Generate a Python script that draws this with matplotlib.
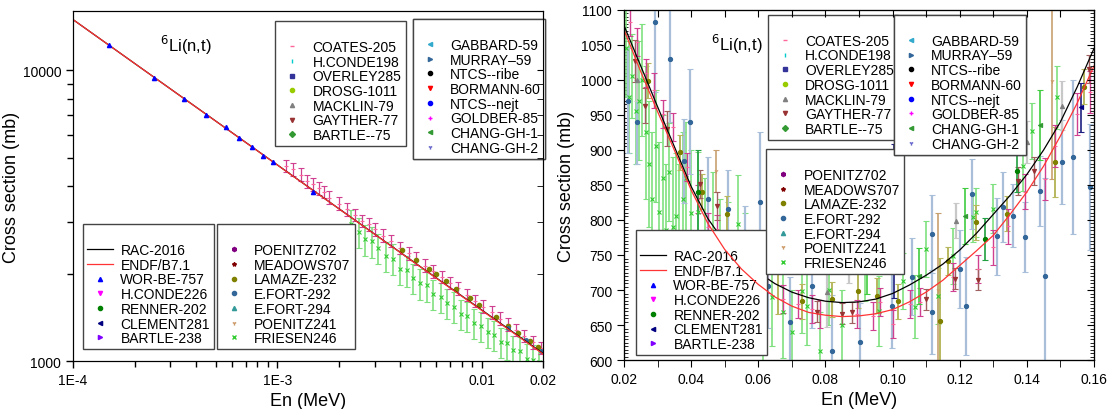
import numpy as np
import matplotlib.pyplot as plt
from matplotlib.lines import Line2D
from matplotlib.ticker import FixedLocator, FixedFormatter, MultipleLocator, NullFormatter

plt.rcParams['font.family'] = ['Liberation Sans', 'DejaVu Sans']

# ---------------- left panel data (log-log, 1E-4 .. 0.02 MeV) ----------------
e_line_l = [1e-4, 2e-4, 5e-4, 1e-3, 2e-3, 5e-3, 0.01, 0.02]
rac_l = [14950, 10570, 6690, 4730, 3345, 2115, 1500, 1062]
endf_l = [14950, 10570, 6685, 4727, 3342, 2112, 1495, 1057]

worbe_e = [1.5e-4, 2.5e-4, 3.5e-4, 4.5e-4, 5.6e-4, 6.5e-4, 7.5e-4, 8.5e-4, 9.5e-4, 1.5e-3]
worbe_s = [12200, 9380, 7940, 7000, 6360, 5830, 5430, 5090, 4820, 3830]

coates_e_l = [1.1e-3, 1.2e-3, 1.3e-3, 1.4e-3, 1.5e-3, 1.6e-3, 1.7e-3, 1.8e-3, 2.0e-3, 2.2e-3,
              2.4e-3, 2.6e-3, 2.8e-3, 3.0e-3, 3.3e-3, 3.6e-3, 4.0e-3, 4.4e-3, 4.8e-3, 5.3e-3,
              5.8e-3, 6.4e-3, 7.0e-3, 7.7e-3, 8.5e-3, 9.3e-3, 0.0102, 0.0112, 0.0123, 0.0135,
              0.0148, 0.0162, 0.0178, 0.0195]
coates_s_l = [4700, 4560, 4380, 4150, 4050, 3930, 3820, 3650, 3480, 3330,
              3180, 3040, 2950, 2840, 2700, 2590, 2450, 2350, 2250, 2130,
              2040, 1950, 1860, 1780, 1690, 1610, 1540, 1470, 1400, 1340,
              1280, 1220, 1160, 1110]
coates_rel_err = 0.05

friesen_e_l = [2.3e-3, 2.5e-3, 2.7e-3, 2.9e-3, 3.1e-3, 3.4e-3, 3.7e-3, 4.0e-3, 4.3e-3, 4.6e-3,
               5.0e-3, 5.4e-3, 5.8e-3, 6.3e-3, 6.8e-3, 7.3e-3, 7.9e-3, 8.5e-3, 9.2e-3, 0.0099,
               0.0107, 0.0115, 0.0124, 0.0133, 0.0143, 0.0154, 0.0166, 0.0178, 0.0191]
friesen_s_l = [2960, 2780, 2620, 2580, 2450, 2300, 2250, 2080, 2050, 1930,
               1850, 1820, 1700, 1660, 1580, 1540, 1450, 1430, 1350, 1320,
               1260, 1230, 1160, 1150, 1090, 1080, 1020, 1010, 990]
friesen_rel_err = 0.12

lamaze_e_l = [4.1e-3, 4.8e-3, 5.5e-3, 6.0e-3, 6.7e-3, 7.5e-3, 8.8e-3, 0.0097, 0.0118, 0.0135,
              0.0150, 0.0172, 0.0190]
lamaze_s_l = [2410, 2220, 2070, 1990, 1880, 1770, 1650, 1560, 1420, 1320,
              1250, 1170, 1120]

efort_e_l = [0.0135, 0.0165, 0.0195]
efort_s_l = [1300, 1180, 1080]

# ---------------- right panel data (linear, 0.02 .. 0.16 MeV) ----------------
e_line_r = [0.020, 0.025, 0.030, 0.035, 0.040, 0.045, 0.050, 0.055, 0.060, 0.065,
            0.070, 0.075, 0.080, 0.085, 0.090, 0.095, 0.100, 0.105, 0.110, 0.115,
            0.120, 0.125, 0.130, 0.135, 0.140, 0.145, 0.150, 0.155, 0.160]
rac_r = [1078, 1020, 962, 905, 848, 802, 768, 744, 725, 709,
         697, 689, 684, 682, 683, 687, 695, 707, 721, 737,
         757, 781, 808, 835, 865, 900, 940, 990, 1045]
endf_r = [1072, 1012, 955, 900, 843, 795, 758, 730, 708, 690,
          677, 668, 664, 662, 663, 666, 672, 683, 697, 714,
          735, 756, 778, 808, 840, 877, 920, 967, 1020]

friesen_e = [0.0205, 0.0215, 0.0225, 0.0235, 0.0245, 0.0255, 0.0265, 0.0275, 0.0285, 0.0295,
             0.0305, 0.0315, 0.0325, 0.0335, 0.0345, 0.0355, 0.0365, 0.0375, 0.0385, 0.0400,
             0.0420, 0.0440, 0.0465, 0.0485, 0.0510, 0.0540, 0.0560, 0.0590, 0.0614, 0.0640,
             0.0674, 0.0700, 0.0730, 0.0745, 0.0784, 0.0810, 0.0850, 0.0918, 0.0960, 0.1030,
             0.1067, 0.1100, 0.1135, 0.1180, 0.1240, 0.1250, 0.1300, 0.1390, 0.1415, 0.1490]
friesen_s = [1045, 975, 1005, 955, 970, 1000, 925, 880, 830, 905,
             812, 860, 785, 868, 790, 805, 780, 830, 860, 810,
             812, 770, 783, 740, 745, 794, 730, 700, 641, 690,
             668, 640, 698, 677, 613, 700, 650, 730, 670, 713,
             676, 758, 692, 749, 804, 811, 816, 877, 927, 975]
friesen_err = [70, 80, 60, 75, 85, 80, 95, 90, 95, 80,
               100, 90, 95, 70, 100, 90, 100, 95, 80, 90,
               85, 90, 85, 90, 80, 70, 80, 75, 70, 70,
               65, 60, 60, 55, 55, 50, 50, 45, 50, 40,
               45, 40, 40, 40, 35, 35, 35, 35, 40, 45]

efort_e = [0.0212, 0.0240, 0.0292, 0.0337, 0.0380, 0.0397, 0.0450, 0.0510, 0.0560, 0.0605,
           0.0630, 0.0695, 0.0760, 0.0820, 0.0903, 0.0998, 0.1058, 0.1117, 0.1117, 0.1200,
           0.1220, 0.1237, 0.1310, 0.1330, 0.1360, 0.1394, 0.1439, 0.1454, 0.1505, 0.1537,
           0.1588]
efort_s = [970, 940, 1083, 1030, 884, 940, 830, 816, 760, 826,
           706, 654, 706, 613, 626, 677, 719, 669, 780, 730,
           677, 837, 777, 819, 806, 776, 841, 720, 883, 890,
           847]
efort_err = [75, 60, 100, 90, 60, 75, 60, 55, 60, 100,
             60, 65, 60, 80, 55, 60, 55, 60, 55, 55,
             70, 50, 55, 50, 45, 50, 50, 140, 60, 110,
             90]

coates_e = [0.0218, 0.0239, 0.0265, 0.0290, 0.0316, 0.0346, 0.0388, 0.0420, 0.0450, 0.0477,
            0.0626, 0.0674, 0.0718, 0.0760, 0.0784, 0.0894, 0.0942, 0.0963, 0.1002, 0.1052,
            0.1082, 0.1180, 0.1254, 0.1300, 0.1344, 0.1394, 0.1454, 0.1484, 0.1550, 0.1588]
coates_s = [1083, 1054, 1010, 985, 951, 933, 876, 830, 790, 787,
            716, 687, 680, 673, 666, 666, 663, 683, 651, 680,
            683, 719, 730, 761, 791, 840, 859, 906, 951, 983]
coates_err = [20, 20, 20, 25, 20, 20, 20, 20, 20, 20,
              20, 20, 20, 20, 20, 20, 20, 20, 20, 20,
              20, 20, 20, 25, 25, 25, 30, 30, 30, 30]

lamaze_e = [0.0272, 0.0367, 0.0432, 0.0507, 0.0596, 0.0659, 0.0730, 0.0820, 0.0897, 0.0953,
            0.1016, 0.1140, 0.1165, 0.1250, 0.1340, 0.1484, 0.1570]
lamaze_s = [999, 897, 840, 809, 741, 726, 684, 687, 699, 692,
            684, 656, 741, 797, 809, 883, 990]
lamaze_err = [25, 25, 25, 25, 25, 60, 25, 25, 25, 25,
              25, 90, 20, 25, 25, 50, 25]

gayther_e = [0.0233, 0.0263, 0.0328, 0.0426, 0.0477, 0.0614, 0.0775, 0.0850, 0.0880, 0.1100,
             0.1186, 0.1255, 0.1375, 0.1420, 0.1585]
gayther_s = [1027, 963, 930, 851, 820, 720, 669, 666, 668, 687,
             716, 715, 855, 870, 1016]
gayther_err = [30, 25, 25, 20, 20, 15, 15, 15, 15, 15,
               15, 15, 20, 20, 20]

macklin_e = [0.0240, 0.0805, 0.0870, 0.1190, 0.1400, 0.1505]
macklin_s = [1000, 697, 730, 799, 911, 963]
macklin_err = [30, 50, 20, 25, 30, 35]

poenitz241_e = [0.0475, 0.1135, 0.1475]
poenitz241_s = [870, 700, 999]
poenitz241_err = [30, 110, 140]

renner_e = [0.0420, 0.1275, 0.1370]
renner_s = [840, 773, 870]
renner_err = [60, 30, 30]

clement_e = [0.1003, 0.1560]
clement_s = [799, 961]
clement_err = [110, 35]

chang1_e = [0.0925, 0.1080, 0.1215, 0.1440]
chang1_s = [730, 720, 805, 935]
chang1_err = [35, 40, 40, 50]

# marker / colour for every data set in the legends
styles = {
    'WOR-BE-757': ('^', '#0000ff'), 'H.CONDE226': ('v', '#ff00ff'),
    'RENNER-202': ('o', '#008000'), 'CLEMENT281': ('<', '#000080'),
    'BARTLE-238': ('>', '#8000ff'), 'POENITZ702': ('h', '#800080'),
    'MEADOWS707': ('*', '#800000'), 'LAMAZE-232': ('o', '#808000'),
    'E.FORT-292': ('o', '#336699'), 'E.FORT-294': ('^', '#339999'),
    'POENITZ241': ('1', '#cc9966'), 'FRIESEN246': ('x', '#33cc33'),
    'COATES-205': ('_', '#ff6699'), 'H.CONDE198': ('|', '#00cccc'),
    'OVERLEY285': ('s', '#333399'), 'DROSG-1011': ('o', '#99cc00'),
    'MACKLIN-79': ('^', '#808080'), 'GAYTHER-77': ('v', '#993333'),
    'BARTLE--75': ('D', '#339933'), 'GABBARD-59': ('<', '#33aacc'),
    'MURRAY\u201359': ('>', '#336699'), 'NTCS--ribe': ('o', '#000000'),
    'BORMANN-60': ('v', '#ff0000'), 'NTCS--nejt': ('o', '#0000ff'),
    'GOLDBER-85': ('+', '#ff00ff'), 'CHANG-GH-1': ('<', '#339933'),
    'CHANG-GH-2': ('1', '#6666cc'),
}

leg_a = ['RAC-2016', 'ENDF/B7.1', 'WOR-BE-757', 'H.CONDE226', 'RENNER-202', 'CLEMENT281', 'BARTLE-238']
leg_b = ['POENITZ702', 'MEADOWS707', 'LAMAZE-232', 'E.FORT-292', 'E.FORT-294', 'POENITZ241', 'FRIESEN246']
leg_c = ['COATES-205', 'H.CONDE198', 'OVERLEY285', 'DROSG-1011', 'MACKLIN-79', 'GAYTHER-77', 'BARTLE--75']
leg_d = ['GABBARD-59', 'MURRAY\u201359', 'NTCS--ribe', 'BORMANN-60', 'NTCS--nejt', 'GOLDBER-85',
         'CHANG-GH-1', 'CHANG-GH-2']


def handle(name):
    if name == 'RAC-2016':
        return Line2D([], [], color='black', lw=0.9)
    if name == 'ENDF/B7.1':
        return Line2D([], [], color='#ff3333', lw=0.9)
    m, c = styles[name]
    return Line2D([], [], ls='none', marker=m, color=c, ms=3, mew=1)


def add_legend(ax, names, x, y):
    lg = ax.legend([handle(n) for n in names], names, loc='upper left', bbox_to_anchor=(x, y),
                   fontsize=10, title=' ', title_fontsize=10, frameon=True, fancybox=False,
                   framealpha=1, edgecolor='#444444', borderpad=0.3, labelspacing=0.05,
                   handlelength=1.9, handletextpad=0.5, borderaxespad=0)
    lg.get_frame().set_linewidth(1.0)
    ax.add_artist(lg)


def points(ax, e, s, err, name, ecolor, ew=1.2):
    m, c = styles[name]
    ax.errorbar(e, s, yerr=err, fmt=m, ms=3, mew=0.8, color=c, ecolor=ecolor,
                elinewidth=ew, capsize=2, capthick=0.8, zorder=3)


fig = plt.figure(figsize=(11.13, 4.10), dpi=100)

# ---------------- left panel ----------------
ax1 = fig.add_axes([0.0656, 0.117, 0.4223, 0.8537])
ax1.set_xscale('log')
ax1.set_yscale('log')

s = np.array(friesen_s_l)
points(ax1, friesen_e_l, s, s * friesen_rel_err, 'FRIESEN246', '#80e080')
s = np.array(coates_s_l)
points(ax1, coates_e_l, s, s * coates_rel_err, 'COATES-205', '#d04090', ew=0.9)
ax1.plot(lamaze_e_l, lamaze_s_l, ls='none', marker='o', ms=3, color='#808000', zorder=4)
ax1.plot(efort_e_l, efort_s_l, ls='none', marker='o', ms=2.5, color='#336699', zorder=4)
ax1.plot(e_line_l, rac_l, color='black', lw=0.9, zorder=5)
ax1.plot(e_line_l, endf_l, color='#ff3333', lw=0.9, zorder=6)
ax1.plot(worbe_e, worbe_s, ls='none', marker='^', ms=3, color='#0000ff', zorder=7)

ax1.set_xlim(1e-4, 0.02)
ax1.set_ylim(1000, 16000)
ax1.xaxis.set_major_locator(FixedLocator([1e-4, 1e-3, 0.01, 0.02]))
ax1.xaxis.set_major_formatter(FixedFormatter(['1E-4', '1E-3', '0.01', '0.02']))
ax1.xaxis.set_minor_locator(FixedLocator([k * 10.0 ** d for d in (-4, -3, -2) for k in range(2, 10)]))
ax1.xaxis.set_minor_formatter(NullFormatter())
ax1.yaxis.set_major_locator(FixedLocator([1000, 10000]))
ax1.yaxis.set_major_formatter(FixedFormatter(['1000', '10000']))
ax1.yaxis.set_minor_locator(FixedLocator([k * 1000 for k in range(2, 10)]))
ax1.yaxis.set_minor_formatter(NullFormatter())
ax1.tick_params(which='both', direction='out', labelsize=10, width=1)
ax1.tick_params(which='major', length=5)
ax1.tick_params(which='minor', length=4)
ax1.set_xlabel('En (MeV)', fontsize=13)
ax1.set_ylabel('Cross section (mb)', fontsize=13)
ax1.yaxis.set_label_coords(-0.112, 0.5)
ax1.text(0.24, 0.905, r'$^{6}$Li(n,t)', transform=ax1.transAxes, fontsize=12,
         ha='center', va='center')

add_legend(ax1, leg_a, 0.021, 0.391)
add_legend(ax1, leg_b, 0.306, 0.391)
add_legend(ax1, leg_c, 0.430, 0.971)
add_legend(ax1, leg_d, 0.723, 0.977)

t1 = ax1.twinx()
t1.set_yscale('log')
t1.set_ylim(1000, 16000)
t1.yaxis.set_major_locator(FixedLocator([1000, 10000]))
t1.yaxis.set_minor_locator(FixedLocator([k * 1000 for k in range(2, 10)]))
t1.yaxis.set_major_formatter(NullFormatter())
t1.yaxis.set_minor_formatter(NullFormatter())
t1.tick_params(which='both', direction='in', length=4)

# ---------------- right panel ----------------
ax2 = fig.add_axes([0.5606, 0.1195, 0.4223, 0.8537])

points(ax2, friesen_e, friesen_s, friesen_err, 'FRIESEN246', '#7fe07f')
points(ax2, efort_e, efort_s, efort_err, 'E.FORT-292', '#a9bfd9', ew=1.6)
points(ax2, macklin_e, macklin_s, macklin_err, 'MACKLIN-79', '#c8c8c8', ew=1.6)
points(ax2, poenitz241_e, poenitz241_s, poenitz241_err, 'POENITZ241', '#c8a070')
points(ax2, lamaze_e, lamaze_s, lamaze_err, 'LAMAZE-232', '#b8b860', ew=1.4)
points(ax2, coates_e, coates_s, coates_err, 'COATES-205', '#d04090', ew=1.0)
points(ax2, gayther_e, gayther_s, gayther_err, 'GAYTHER-77', '#a06060', ew=1.0)
points(ax2, renner_e, renner_s, renner_err, 'RENNER-202', '#20a040')
points(ax2, chang1_e, chang1_s, chang1_err, 'CHANG-GH-1', '#40cc40')
points(ax2, clement_e, clement_s, clement_err, 'CLEMENT281', '#202080')
ax2.plot(e_line_r, rac_r, color='black', lw=0.9, zorder=5)
ax2.plot(e_line_r, endf_r, color='#ff3333', lw=0.9, zorder=6)

ax2.set_xlim(0.02, 0.16)
ax2.set_ylim(600, 1100)
ax2.xaxis.set_major_locator(MultipleLocator(0.02))
ax2.xaxis.set_minor_locator(MultipleLocator(0.01))
ax2.xaxis.set_major_formatter(lambda v, p: f'{v:.2f}')
ax2.yaxis.set_major_locator(MultipleLocator(50))
ax2.yaxis.set_minor_locator(MultipleLocator(5))
ax2.tick_params(axis='x', which='both', direction='out', length=5, labelsize=10)
ax2.tick_params(axis='y', which='major', direction='out', length=5, labelsize=10)
ax2.tick_params(axis='y', which='minor', direction='in', length=3)
ax2.set_xlabel('En (MeV)', fontsize=13)
ax2.set_ylabel('Cross section (mb)', fontsize=13)
ax2.yaxis.set_label_coords(-0.104, 0.5)
ax2.text(0.24, 0.905, r'$^{6}$Li(n,t)', transform=ax2.transAxes, fontsize=12,
         ha='center', va='center')

add_legend(ax2, leg_a, 0.0255, 0.371)
add_legend(ax2, leg_b, 0.302, 0.603)
add_legend(ax2, leg_c, 0.306, 0.986)
add_legend(ax2, leg_d, 0.574, 0.986)

t2 = ax2.twinx()
t2.set_ylim(600, 1100)
t2.yaxis.set_major_locator(MultipleLocator(50))
t2.yaxis.set_minor_locator(MultipleLocator(5))
t2.yaxis.set_major_formatter(NullFormatter())
t2.tick_params(which='major', direction='in', length=5)
t2.tick_params(which='minor', direction='in', length=3)
t3 = ax2.twiny()
t3.set_xlim(0.02, 0.16)
t3.xaxis.set_major_locator(MultipleLocator(0.01))
t3.xaxis.set_major_formatter(NullFormatter())
t3.tick_params(direction='in', length=5)

fig.savefig('out.png', dpi=100)
